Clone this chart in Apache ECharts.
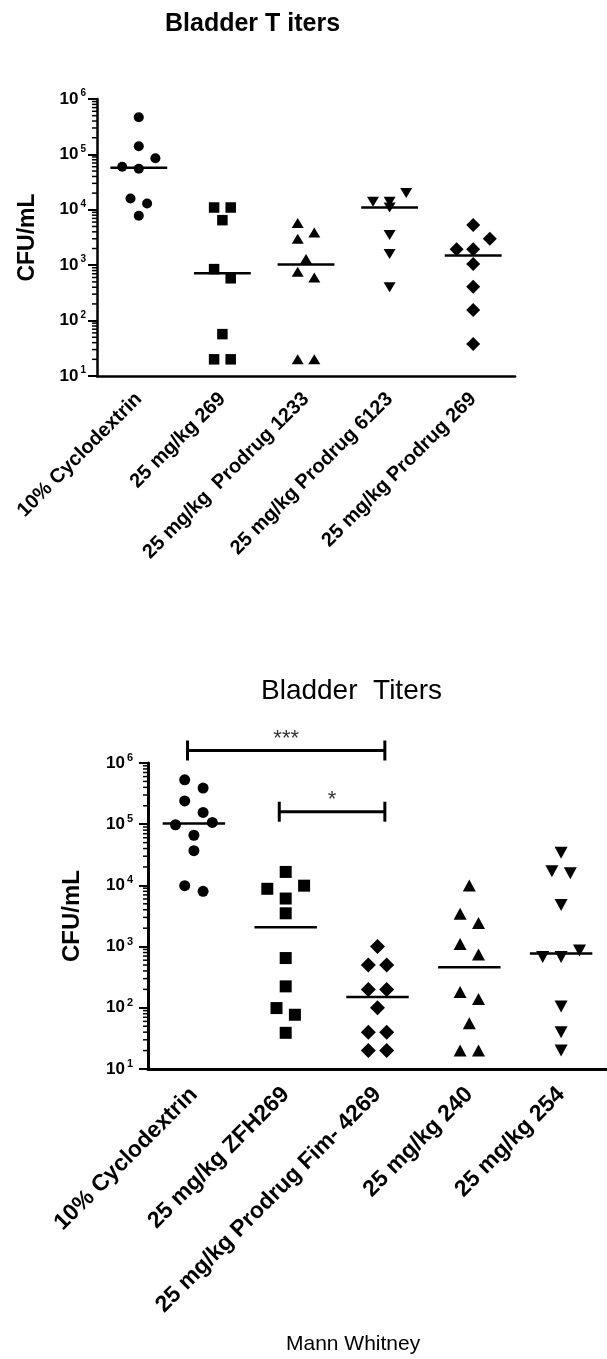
<!DOCTYPE html>
<html>
<head>
<meta charset="utf-8">
<title>Bladder Titers</title>
<script src="https://cdn.jsdelivr.net/npm/echarts@6/dist/echarts.min.js"></script>
<style>
  html, body { margin: 0; padding: 0; background: #fff; }
  #chart { width: 607px; height: 1359px; }
</style>
</head>
<body>
<div id="chart"></div>
<script>
// ---- Data: CFU/mL per animal, one array per treatment group ----
const topGroups = ['10% Cyclodextrin', '25 mg/kg 269', '25 mg/kg  Prodrug 1233', '25 mg/kg Prodrug 6123', '25 mg/kg Prodrug 269'];
const topCyclodextrin = [470000, 140000, 85000, 60000, 55000, 16000, 13000, 7800];
const top269 = [11000, 11000, 6500, 850, 580, 57, 20, 20];
const topProdrug1233 = [5800, 3900, 3000, 1300, 760, 600, 20, 20];
const topProdrug6123 = [20000, 14000, 14000, 11000, 3500, 1600, 400];
const topProdrug269 = [5300, 3000, 1950, 1950, 1050, 410, 155, 38];

const bottomGroups = ['10% Cyclodextrin', '25 mg/kg ZFH269', '25 mg/kg Prodrug Fim- 4269', '25 mg/kg 240', '25 mg/kg 254'];
const bottomCyclodextrin = [530000, 390000, 240000, 156000, 107000, 98000, 66000, 37000, 9900, 8000];
const bottomZFH269 = [16600, 9900, 8800, 6100, 3500, 650, 224, 99, 77, 39];
const bottomFim4269 = [1000, 500, 500, 200, 200, 100, 40, 40, 20, 20];
const bottom240 = [10000, 3450, 2430, 1100, 740, 181, 139, 56, 20, 20];
const bottom254 = [34000, 17000, 15800, 4800, 867, 676, 676, 105, 40, 20];

// Decade ticks of the CFU/mL axis
const yTicks = [10, 100, 1000, 10000, 100000, 1000000];

// Mann Whitney comparisons shown on the lower panel
const comparisons = [
  { from: 0, to: 2, label: '***' },
  { from: 1, to: 2, label: '*' }
];

// ---- Drawing ----
const FONT = '"Liberation Sans", Arial, Helvetica, sans-serif';
const chart = echarts.init(document.getElementById('chart'), null, { renderer: 'canvas' });

const panels = [
  {
    groups: topGroups,
    values: [topCyclodextrin, top269, topProdrug1233, topProdrug6123, topProdrug269],
    symbols: ['circle', 'rect', 'triangle', 'triangle', 'diamond'],
    rotate: [0, 0, 0, 180, 0],
    sizes: [10, 10.5, [12, 10], [12, 10], [14, 14]],
    grid: { left: 97, top: 99, width: 418, height: 277 },
    tickFont: 17, supFont: 10, labelFont: 20, nameFont: 23, nameGap: 58,
    yLabelMargin: 11, xLabelMargin: 20, xTickLen: 8, axisWidth: 2.5,
    slot: 8.3, bin: 12
  },
  {
    groups: bottomGroups,
    values: [bottomCyclodextrin, bottomZFH269, bottomFim4269, bottom240, bottom254],
    symbols: ['circle', 'rect', 'diamond', 'triangle', 'triangle'],
    rotate: [0, 0, 0, 0, 180],
    sizes: [11, 12, [15, 15], [13, 12], [13, 12]],
    grid: { left: 148, top: 763, width: 459, height: 306 },
    tickFont: 17, supFont: 11, labelFont: 23, nameFont: 24, nameGap: 64,
    yLabelMargin: 15, xLabelMargin: 22, xTickLen: 10, axisWidth: 3,
    slot: 9.2, bin: 13
  }
];

function median(arr) {
  const s = arr.slice().sort((a, b) => a - b);
  const m = Math.floor(s.length / 2);
  return s.length % 2 ? s[m] : (s[m - 1] + s[m]) / 2;
}

function logAxis(p, gi) {
  return {
    type: 'log', logBase: 10, gridIndex: gi,
    min: yTicks[0], max: yTicks[yTicks.length - 1],
    axisLine: { show: true, onZero: false, lineStyle: { color: '#000', width: p.axisWidth } },
    axisTick: { show: true, length: 9, lineStyle: { color: '#000', width: 2 } },
    minorTick: { show: false },
    splitLine: { show: false },
    axisLabel: {
      margin: p.yLabelMargin,
      formatter: v => '{n|10}{e|' + Math.round(Math.log10(v)) + '}',
      rich: {
        n: { fontFamily: FONT, fontWeight: 'bold', fontSize: p.tickFont, color: '#000', lineHeight: p.tickFont + 4 },
        e: { fontFamily: FONT, fontWeight: 'bold', fontSize: p.supFont, color: '#000', verticalAlign: 'top', lineHeight: p.supFont, padding: [0, 0, 0, 2] }
      }
    },
    name: 'CFU/mL', nameLocation: 'middle', nameGap: p.nameGap,
    nameTextStyle: { fontFamily: FONT, fontWeight: 'bold', fontSize: p.nameFont, color: '#000' }
  };
}

function catAxis(p, gi) {
  return {
    type: 'category', gridIndex: gi, data: p.groups, boundaryGap: true,
    axisLine: { onZero: false, lineStyle: { color: '#000', width: p.axisWidth } },
    axisTick: { alignWithLabel: true, interval: 0, length: p.xTickLen, lineStyle: { color: '#000', width: 2 } },
    axisLabel: {
      interval: 0, rotate: 45, margin: p.xLabelMargin,
      fontFamily: FONT, fontWeight: 'bold', fontSize: p.labelFont, color: '#000'
    },
    splitLine: { show: false }
  };
}

function slotAxis(gi) {
  return { type: 'value', gridIndex: gi, min: -0.5, max: 4.5, show: false };
}

chart.setOption({
  animation: false,
  backgroundColor: '#fff',
  title: [
    { text: 'Bladder T iters', left: 165, top: 12, padding: 0,
      textStyle: { fontFamily: FONT, fontWeight: 'bold', fontSize: 25, color: '#000' } },
    { text: 'Bladder  Titers', left: 261, top: 677, padding: 0,
      textStyle: { fontFamily: FONT, fontWeight: 'normal', fontSize: 28, color: '#000' } },
    { text: 'Mann Whitney', left: 286, top: 1334, padding: 0,
      textStyle: { fontFamily: FONT, fontWeight: 'normal', fontSize: 21, color: '#000' } }
  ],
  grid: panels.map(p => Object.assign({ containLabel: false }, p.grid)),
  xAxis: [catAxis(panels[0], 0), slotAxis(0), catAxis(panels[1], 1), slotAxis(1)],
  yAxis: [logAxis(panels[0], 0), logAxis(panels[1], 1)],
  series: []
});

// Spread points of one group horizontally so that symbols with close values do not overlap.
function slotPattern(n) {
  if (n === 1) return [0];
  if (n === 2) return [-1, 1];
  if (n === 3) return [2, -2, 0];
  const out = [];
  if (n % 2) { out.push(0); for (let k = 2; out.length < n; k += 2) out.push(-k, k); }
  else { for (let k = 1; out.length < n; k += 2) out.push(-k, k); }
  return out.slice(0, n);
}

function swarm(values, gi, finder, p, symSize) {
  const size = Array.isArray(symSize) ? Math.max(symSize[0], symSize[1]) : symSize;
  const band = chart.convertToPixel(finder, [1, 100])[0] - chart.convertToPixel(finder, [0, 100])[0];
  const pts = values.map((v, i) => ({ v, i, y: chart.convertToPixel(finder, [gi, v])[1] }));
  pts.sort((a, b) => a.y - b.y || a.i - b.i);
  const bins = [];
  pts.forEach(pt => {
    const last = bins[bins.length - 1];
    if (last && pt.y - last[0].y < p.bin) last.push(pt); else bins.push([pt]);
  });
  const placed = [];
  const offs = new Array(values.length).fill(0);
  const lim = size * 0.9;
  bins.forEach(bin => {
    const base = slotPattern(bin.length);
    const trials = [
      base, base.map(s => s * 2), base.map(s => s + 1), base.map(s => s - 1),
      base.map(s => s * 2 + 1), base.map(s => s * 2 - 1)
    ];
    let chosen = base;
    for (const t of trials) {
      const ok = bin.every((pt, j) => placed.every(q =>
        Math.abs(q.x - t[j] * p.slot) >= lim || Math.abs(q.y - pt.y) >= lim));
      if (ok) { chosen = t; break; }
    }
    bin.forEach((pt, j) => {
      offs[pt.i] = chosen[j] * p.slot;
      placed.push({ x: offs[pt.i], y: pt.y });
    });
  });
  return values.map((v, i) => [gi + offs[i] / band, v]);
}

const series = [];
const MEDIAN_HALF = 0.34;

panels.forEach((p, pi) => {
  const xIdx = pi * 2 + 1;
  const finder = { xAxisIndex: xIdx, yAxisIndex: pi };

  p.values.forEach((vals, gi) => {
    series.push({
      type: 'scatter', name: p.groups[gi], xAxisIndex: xIdx, yAxisIndex: pi,
      symbol: p.symbols[gi], symbolRotate: p.rotate[gi], symbolSize: p.sizes[gi],
      itemStyle: { color: '#000', opacity: 1 },
      emphasis: { disabled: true }, silent: true,
      data: swarm(vals, gi, finder, p, p.sizes[gi]),
      z: 3
    });
  });

  // Median line per group
  series.push({
    type: 'custom', xAxisIndex: xIdx, yAxisIndex: pi, silent: true, z: 4,
    data: p.values.map((vals, gi) => [gi, median(vals)]),
    renderItem: (params, api) => {
      const x = api.value(0), v = api.value(1);
      const a = api.coord([x - MEDIAN_HALF, v]);
      const b = api.coord([x + MEDIAN_HALF, v]);
      return { type: 'line', shape: { x1: a[0], y1: a[1], x2: b[0], y2: b[1] },
               style: { stroke: '#000', lineWidth: 2.5 } };
    }
  });

  // Logarithmic minor ticks (2..9 within each decade)
  const minor = [];
  for (let d = 0; d < yTicks.length - 1; d++) {
    for (let m = 2; m <= 9; m++) minor.push([-0.5, yTicks[d] * m]);
  }
  series.push({
    type: 'custom', xAxisIndex: xIdx, yAxisIndex: pi, silent: true, clip: false, z: 2,
    data: minor,
    renderItem: (params, api) => {
      const c = api.coord([api.value(0), api.value(1)]);
      return { type: 'line', shape: { x1: c[0] - 5, y1: c[1], x2: c[0], y2: c[1] },
               style: { stroke: '#000', lineWidth: 1.5 } };
    }
  });
});

// Significance brackets on the lower panel
const BRACKET_LEVELS = [1.6e6, 1.6e5];
series.push({
  type: 'custom', xAxisIndex: 3, yAxisIndex: 1, silent: true, clip: false, z: 5,
  data: comparisons.map((c, i) => [c.from, BRACKET_LEVELS[i], c.to]),
  renderItem: (params, api) => {
    const c = comparisons[params.dataIndex];
    const a = api.coord([api.value(0) - 0.07, api.value(1)]);
    const b = api.coord([api.value(2) + 0.08, api.value(1)]);
    const st = { stroke: '#000', lineWidth: 3 };
    return {
      type: 'group',
      children: [
        { type: 'line', shape: { x1: a[0], y1: a[1], x2: b[0], y2: b[1] }, style: st },
        { type: 'line', shape: { x1: a[0], y1: a[1] - 10, x2: a[0], y2: a[1] + 10 }, style: st },
        { type: 'line', shape: { x1: b[0], y1: b[1] - 10, x2: b[0], y2: b[1] + 10 }, style: st },
        { type: 'text', style: { text: c.label, x: (a[0] + b[0]) / 2, y: a[1] - 12,
            align: 'center', verticalAlign: 'middle', fontSize: 22, fontFamily: FONT, fill: '#333' } }
      ]
    };
  }
});

chart.setOption({ series });
</script>
</body>
</html>
